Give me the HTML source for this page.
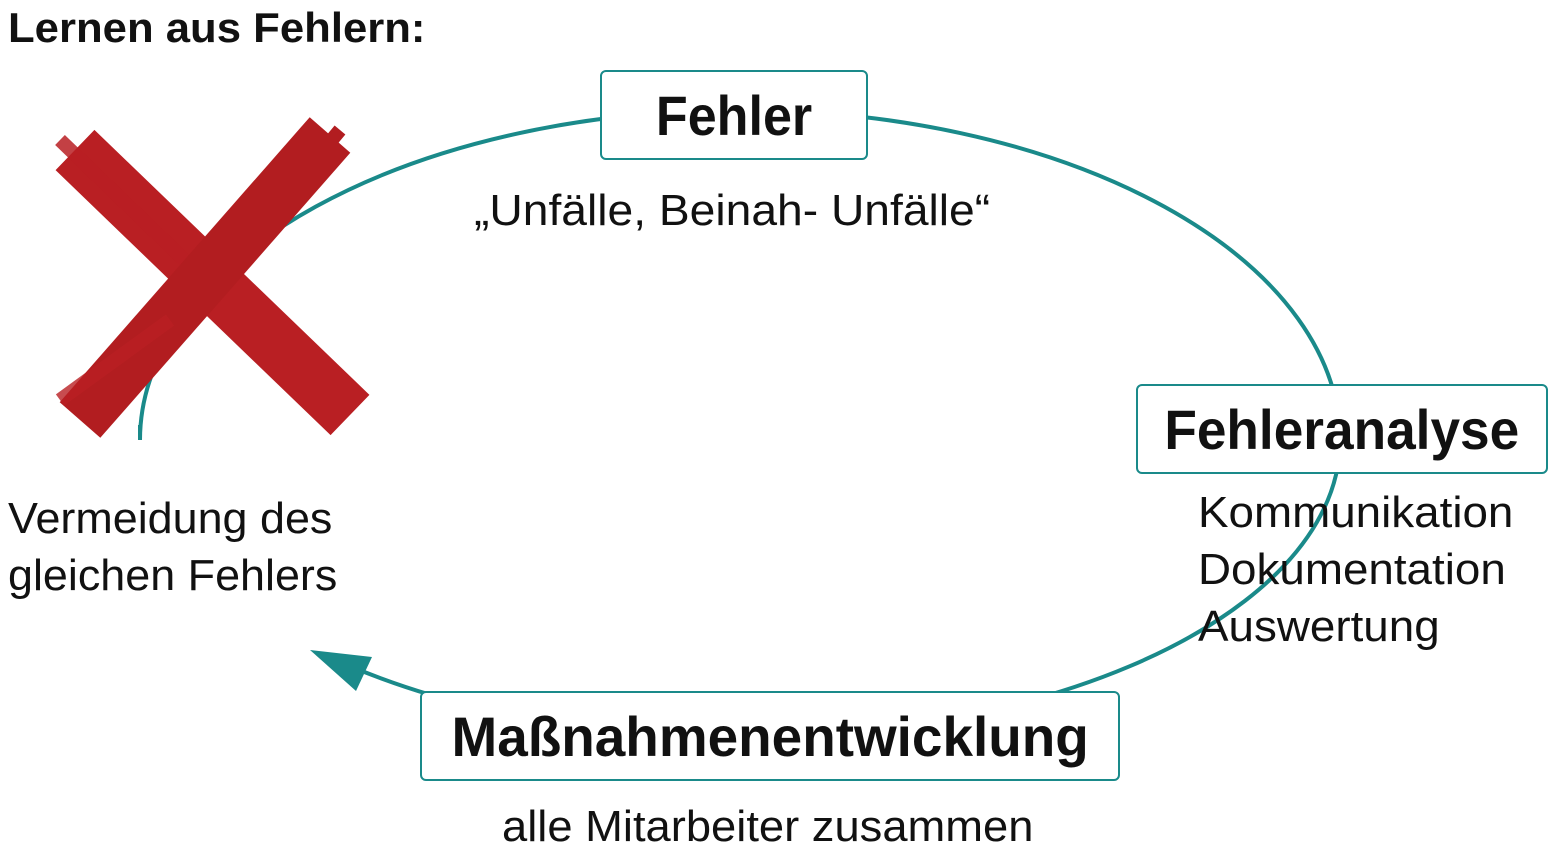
<!DOCTYPE html>
<html><head><meta charset="utf-8"><style>
body{margin:0;width:1559px;height:851px;background:#fff;position:relative;overflow:hidden;font-family:"Liberation Sans",sans-serif;color:#111}
.t{position:absolute;white-space:nowrap;transform-origin:0 0}
.box{position:absolute;border:2px solid #1a8a8a;border-radius:6px;background:#fff;box-sizing:border-box;display:flex;align-items:center;justify-content:center;font-weight:bold}
.box span{display:inline-block}
</style></head><body>
<svg width="1559" height="851" style="position:absolute;left:0;top:0">
<path d="M 140 425 L 140 440 A 600 330 0 0 1 1340 440 A 600 297 0 0 1 345 664" fill="none" stroke="#1a8a8a" stroke-width="4"/>
<polygon points="310,650 372,657 356,691" fill="#1a8a8a"/>
<g stroke="#b91f23" stroke-linecap="butt">
<line x1="75" y1="150" x2="350" y2="415" stroke-width="56"/>
<line x1="60" y1="140" x2="200" y2="275" stroke-width="14" stroke-opacity=".85"/>
<line x1="330" y1="135" x2="80" y2="420" stroke-width="54" stroke="#b21d20"/>
<line x1="340" y1="130" x2="290" y2="190" stroke-width="14" stroke="#b21d20"/>
<line x1="60" y1="400" x2="170" y2="320" stroke-width="14" stroke-opacity=".8"/>
</g>
</svg>
<div class="t" style="left:8px;top:4px;font-size:42px;font-weight:bold;transform:scaleX(1.04)">Lernen aus Fehlern:</div>
<div class="box" style="left:600px;top:70px;width:268px;height:90px;font-size:56px"><span style="transform:scaleX(.93)">Fehler</span></div>
<div class="t" style="left:474px;top:186px;font-size:44px;transform:scaleX(1.05)">„Unfälle, Beinah- Unfälle“</div>
<div class="box" style="left:1136px;top:384px;width:412px;height:90px;font-size:56px"><span style="transform:scaleX(.95)">Fehleranalyse</span></div>
<div class="t" style="left:1198px;top:484px;font-size:44px;line-height:57px;transform:scaleX(1.04)">Kommunikation<br>Dokumentation<br>Auswertung</div>
<div class="box" style="left:420px;top:691px;width:700px;height:90px;font-size:56px"><span style="transform:scaleX(.98)">Maßnahmenentwicklung</span></div>
<div class="t" style="left:502px;top:802px;font-size:44px;transform:scaleX(1.03)">alle Mitarbeiter zusammen</div>
<div class="t" style="left:8px;top:490px;font-size:44px;line-height:57px;transform:scaleX(1.02)">Vermeidung des<br>gleichen Fehlers</div>
</body></html>
